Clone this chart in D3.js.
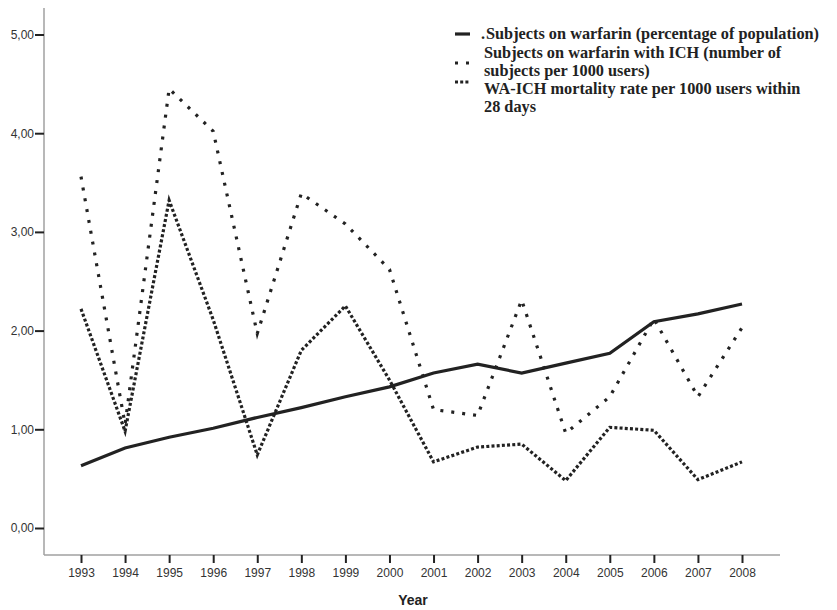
<!DOCTYPE html>
<html><head><meta charset="utf-8">
<script src="https://cdn.jsdelivr.net/npm/d3@7"></script>
<style>body{margin:0;background:#fff}</style>
</head><body><svg id="c" width="837" height="610"></svg>
<script>
const years = [1993,1994,1995,1996,1997,1998,1999,2000,2001,2002,2003,2004,2005,2006,2007,2008];
const warfarinPct = [0.63,0.81,0.92,1.01,1.12,1.22,1.33,1.43,1.57,1.66,1.57,1.67,1.77,2.09,2.17,2.27];
const ichPer1000 = [3.56,1.05,4.45,4.02,1.97,3.39,3.08,2.62,1.20,1.14,2.31,0.96,1.33,2.12,1.33,2.03];
const mortalityPer1000 = [2.22,0.98,3.32,2.11,0.74,1.80,2.25,1.50,0.67,0.82,0.85,0.48,1.02,0.99,0.49,0.67];
const yTicks = [0,1,2,3,4,5];
const legendLabels = [
  ["Subjects on warfarin (percentage of population)"],
  ["Subjects on warfarin with ICH (number of","subjects per 1000 users)"],
  ["WA-ICH mortality rate per 1000 users within","28 days"]
];

const svg = d3.select("#c");
const x = d3.scalePoint().domain(years).range([81,742]);
const y = d3.scaleLinear().domain([0,5]).range([528,34.5]);

// axes lines
svg.append("line").attr("x1",44).attr("x2",44).attr("y1",8).attr("y2",555)
  .attr("stroke","#a0a0a0").attr("stroke-width",1.5);
svg.append("line").attr("x1",44).attr("x2",780).attr("y1",555).attr("y2",555)
  .attr("stroke","#a0a0a0").attr("stroke-width",1.5);

const fmt = v => d3.format(".2f")(v).replace(".",",");
const yAxis = svg.append("g").attr("transform","translate(44,0)")
  .call(d3.axisLeft(y).tickValues(yTicks).tickSize(9).tickFormat(fmt));
yAxis.select(".domain").remove();
yAxis.selectAll(".tick line").attr("stroke","#222").attr("stroke-width",2);
yAxis.selectAll(".tick text").attr("x",-10).attr("fill","#333")
  .style("font-family","Liberation Sans, Arial, sans-serif").style("font-size","12px");

const xAxis = svg.append("g").attr("transform","translate(0,555)")
  .call(d3.axisBottom(x).tickSize(8).tickFormat(d3.format("d")));
xAxis.select(".domain").remove();
xAxis.selectAll(".tick line").attr("stroke","#222").attr("stroke-width",2);
xAxis.selectAll(".tick text").attr("y",13).attr("fill","#333")
  .style("font-family","Liberation Sans, Arial, sans-serif").style("font-size","12px");

svg.append("text").attr("x",413).attr("y",605).attr("text-anchor","middle")
  .style("font-family","Liberation Sans, Arial, sans-serif").style("font-size","14px")
  .style("font-weight","bold").attr("fill","#222").text("Year");

const series = [
  {vals: warfarinPct, dash: null},
  {vals: ichPer1000, dash: "3,8"},
  {vals: mortalityPer1000, dash: "3,2.2"}
];
const line = d3.line().x((d,i)=>x(years[i])).y(d=>y(d));
series.forEach(s=>{
  svg.append("path").datum(s.vals).attr("d",line).attr("fill","none")
    .attr("stroke","#222").attr("stroke-width",3.2)
    .attr("stroke-dasharray",s.dash);
});

// legend
const lg = svg.append("g").style("font-family","Liberation Serif, 'Times New Roman', serif")
  .style("font-size","16.3px").style("font-weight","bold").attr("fill","#222");
const rowsY = [[39],[58,76],[94,112]];
const symY = [34,63,82];
legendLabels.forEach((lines,i)=>{
  lines.forEach((t,j)=>{
    lg.append("text").attr("x",i===0?486:484).attr("y",rowsY[i][j]).text(t);
  });
  lg.append("line").attr("x1",455).attr("x2",470).attr("y1",symY[i]).attr("y2",symY[i])
    .attr("stroke","#222").attr("stroke-width",3.2)
    .attr("stroke-dasharray",series[i].dash);
});
lg.append("text").attr("x",481).attr("y",39).text(".");
</script></body></html>
